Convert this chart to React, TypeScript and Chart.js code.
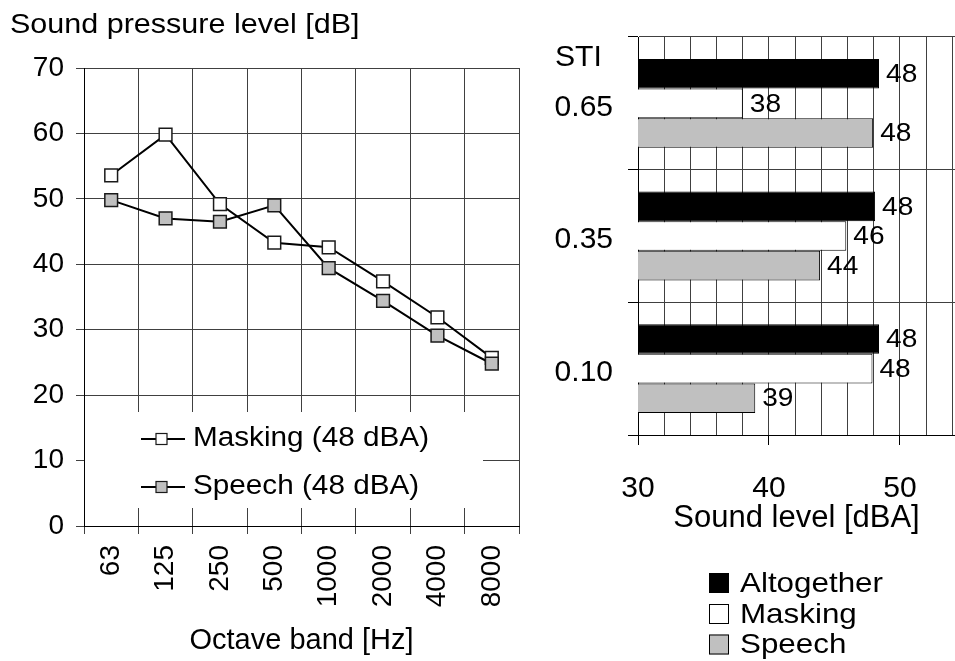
import React, { useEffect, useRef } from 'react';
import { Chart, registerables } from 'chart.js';

Chart.register(...registerables);

const FONT = '"Liberation Sans", Arial, sans-serif';

// Left chart: octave band spectra
const bands = ['63', '125', '250', '500', '1000', '2000', '4000', '8000'];
const maskingSpl = [53.6, 59.8, 49.2, 43.3, 42.6, 37.4, 31.9, 25.7];
const speechSpl = [49.8, 47.0, 46.5, 49.0, 39.4, 34.4, 29.1, 24.8];
const splMin = 0;
const splMax = 70;
const splStep = 10;

// Right chart: sound levels per STI
const stiLabels = ['0.65', '0.35', '0.10'];
const altogetherLevel = [48.4, 48.1, 48.4];
const maskingLevel = [38.0, 45.9, 47.9];
const speechLevel = [47.95, 43.9, 38.95];
const levelMin = 30;
const levelMax = 54.2;
const levelGridStep = 2;
const levelLabelStep = 10;

function wideText(ctx: any, text: string, x: number, y: number, sx: number) {
  ctx.save();
  ctx.translate(x, y);
  ctx.scale(sx, 1);
  ctx.fillText(text, 0, 0);
  ctx.restore();
}

const leftDecor = {
  id: 'leftDecor',
  beforeDatasetsDraw(chart: any) {
    const { ctx, chartArea } = chart;
    ctx.save();
    ctx.fillStyle = '#fff';
    ctx.fillRect(chartArea.left + 1, 412, 483 - chartArea.left - 1, 96);
    const rows = [chart.data.datasets[0], chart.data.datasets[1]];
    rows.forEach((ds: any, i: number) => {
      const y = 439 + i * 48;
      ctx.strokeStyle = '#000';
      ctx.lineWidth = 2;
      ctx.beginPath();
      ctx.moveTo(141, y);
      ctx.lineTo(185, y);
      ctx.stroke();
      ctx.fillStyle = ds.pointBackgroundColor;
      ctx.fillRect(156, y - 5.5, 11, 11);
      ctx.strokeStyle = '#1a1a1a';
      ctx.lineWidth = 1.2;
      ctx.strokeRect(156, y - 5.5, 11, 11);
      ctx.fillStyle = '#000';
      ctx.font = `27px ${FONT}`;
      ctx.textBaseline = 'middle';
      ctx.textAlign = 'left';
      wideText(ctx, ds.label, 193, y, 1.1);
    });
    ctx.restore();
  },
  afterDraw(chart: any) {
    const { ctx } = chart;
    ctx.save();
    ctx.fillStyle = '#000';
    ctx.font = `28px ${FONT}`;
    ctx.textBaseline = 'alphabetic';
    ctx.textAlign = 'left';
    wideText(ctx, 'Sound pressure level [dB]', 10, 33, 1.09);
    ctx.restore();
  },
};

const rightDecor = {
  id: 'rightDecor',
  afterDatasetsDraw(chart: any) {
    const { ctx } = chart;
    ctx.save();
    ctx.fillStyle = '#000';
    ctx.font = `26px ${FONT}`;
    ctx.textBaseline = 'middle';
    ctx.textAlign = 'left';
    chart.data.datasets.forEach((ds: any, di: number) => {
      const meta = chart.getDatasetMeta(di);
      meta.data.forEach((el: any, i: number) => {
        wideText(ctx, String(Math.round(ds.data[i])), el.x + 7, el.y + 1, 1.08);
      });
    });
    ctx.restore();
  },
  afterDraw(chart: any) {
    const { ctx } = chart;
    ctx.save();
    ctx.fillStyle = '#000';
    ctx.font = `29px ${FONT}`;
    ctx.textBaseline = 'middle';
    ctx.textAlign = 'left';
    wideText(ctx, 'STI', 15, 58, 1.04);
    const ys = [583, 614, 644.5];
    chart.data.datasets.forEach((ds: any, i: number) => {
      const y = ys[i];
      ctx.fillStyle = ds.backgroundColor;
      ctx.fillRect(169, y - 10, 20, 20);
      ctx.strokeStyle = '#000';
      ctx.lineWidth = 1;
      ctx.strokeRect(169.5, y - 9.5, 19, 19);
      ctx.fillStyle = '#000';
      ctx.font = `28px ${FONT}`;
      wideText(ctx, ds.label, 200, y + 1, 1.12);
    });
    ctx.restore();
  },
};

export default function App() {
  const leftRef = useRef<HTMLCanvasElement>(null);
  const rightRef = useRef<HTMLCanvasElement>(null);

  useEffect(() => {
    Chart.defaults.font.family = FONT;
    Chart.defaults.color = '#000';

    const left = new Chart(leftRef.current as HTMLCanvasElement, {
      type: 'line',
      data: {
        labels: bands,
        datasets: [
          {
            label: 'Masking (48 dBA)',
            data: maskingSpl,
            borderColor: '#000',
            borderWidth: 2,
            pointStyle: 'rect',
            pointRadius: 9,
            pointBackgroundColor: '#fff',
            pointBorderColor: '#1a1a1a',
            pointBorderWidth: 1.5,
            tension: 0,
            order: 1,
          },
          {
            label: 'Speech (48 dBA)',
            data: speechSpl,
            borderColor: '#000',
            borderWidth: 2,
            pointStyle: 'rect',
            pointRadius: 9,
            pointBackgroundColor: '#c0c0c0',
            pointBorderColor: '#1a1a1a',
            pointBorderWidth: 1.5,
            tension: 0,
            order: 0,
          },
        ],
      },
      options: {
        responsive: false,
        animation: false,
        layout: { padding: { left: 0, top: 68, right: 21, bottom: 0 } },
        plugins: {
          legend: { display: false },
          tooltip: { enabled: false },
          title: { display: false },
        },
        scales: {
          x: {
            type: 'category',
            offset: true,
            grid: { offset: true, color: '#404040', lineWidth: 1, tickLength: 8, tickColor: '#404040' },
            border: { color: '#000' },
            ticks: {
              minRotation: 90,
              maxRotation: 90,
              padding: 11,
              color: '#000',
              autoSkip: false,
              font: { size: 28 },
            },
            title: {
              display: true,
              text: 'Octave band [Hz]',
              color: '#000',
              font: { size: 29 },
              padding: { top: 0, bottom: 3 },
            },
            afterFit: (s: any) => {
              s.height = 135;
              s.paddingRight = 0;
            },
          },
          y: {
            min: splMin,
            max: splMax,
            ticks: { stepSize: splStep, padding: 12, color: '#000', font: { size: 28 } },
            grid: { color: '#404040', tickLength: 8, tickColor: '#404040' },
            border: { color: '#000' },
            afterFit: (s: any) => {
              s.width = 84;
            },
          },
        },
      } as any,
      plugins: [leftDecor],
    });

    const right = new Chart(rightRef.current as HTMLCanvasElement, {
      type: 'bar',
      data: {
        labels: stiLabels,
        datasets: [
          { label: 'Altogether', data: altogetherLevel, backgroundColor: '#000', borderColor: '#000', borderWidth: 1 },
          { label: 'Masking', data: maskingLevel, backgroundColor: '#fff', borderColor: '#000', borderWidth: 1 },
          { label: 'Speech', data: speechLevel, backgroundColor: '#c0c0c0', borderColor: '#000', borderWidth: 1 },
        ],
      },
      options: {
        indexAxis: 'y',
        responsive: false,
        animation: false,
        layout: { padding: { left: 0, top: 37, right: 0, bottom: 121 } },
        datasets: { bar: { categoryPercentage: 0.67, barPercentage: 1 } },
        plugins: {
          legend: { display: false },
          tooltip: { enabled: false },
        },
        scales: {
          x: {
            type: 'linear',
            min: levelMin,
            max: levelMax,
            ticks: {
              stepSize: levelGridStep,
              autoSkip: false,
              includeBounds: false,
              maxRotation: 0,
              padding: 26,
              color: '#000',
              font: { size: 30 },
              callback: (v: any) => (Number(v) % levelLabelStep === 0 ? String(v) : ''),
            },
            grid: {
              color: '#404040',
              tickLength: 10,
              tickColor: (c: any) =>
                c.tick && Number(c.tick.value) % levelLabelStep === 0 ? '#000' : 'rgba(0,0,0,0)',
            },
            border: { color: '#000' },
            title: {
              display: true,
              text: 'Sound level [dBA]',
              color: '#000',
              font: { size: 31 },
              padding: { top: 0, bottom: 3 },
            },
            afterFit: (s: any) => {
              s.height = 105;
              s.paddingRight = 0;
              s.paddingLeft = 0;
            },
          },
          y: {
            ticks: { padding: 15, labelOffset: 4, color: '#000', font: { size: 30 } },
            grid: { color: '#404040', tickLength: 10, offset: true, tickColor: '#000' },
            border: { color: '#000' },
            afterFit: (s: any) => {
              s.width = 98;
              s.paddingTop = 0;
              s.paddingBottom = 0;
            },
          },
        },
      } as any,
      plugins: [rightDecor],
    });

    return () => {
      left.destroy();
      right.destroy();
    };
  }, []);

  return (
    <div
      style={{
        position: 'absolute',
        left: 0,
        top: 0,
        width: 955,
        height: 661,
        background: '#fff',
        overflow: 'hidden',
      }}
    >
      <canvas ref={leftRef} width={540} height={661} style={{ position: 'absolute', left: 0, top: 0 }} />
      <canvas ref={rightRef} width={415} height={661} style={{ position: 'absolute', left: 540, top: 0 }} />
    </div>
  );
}
